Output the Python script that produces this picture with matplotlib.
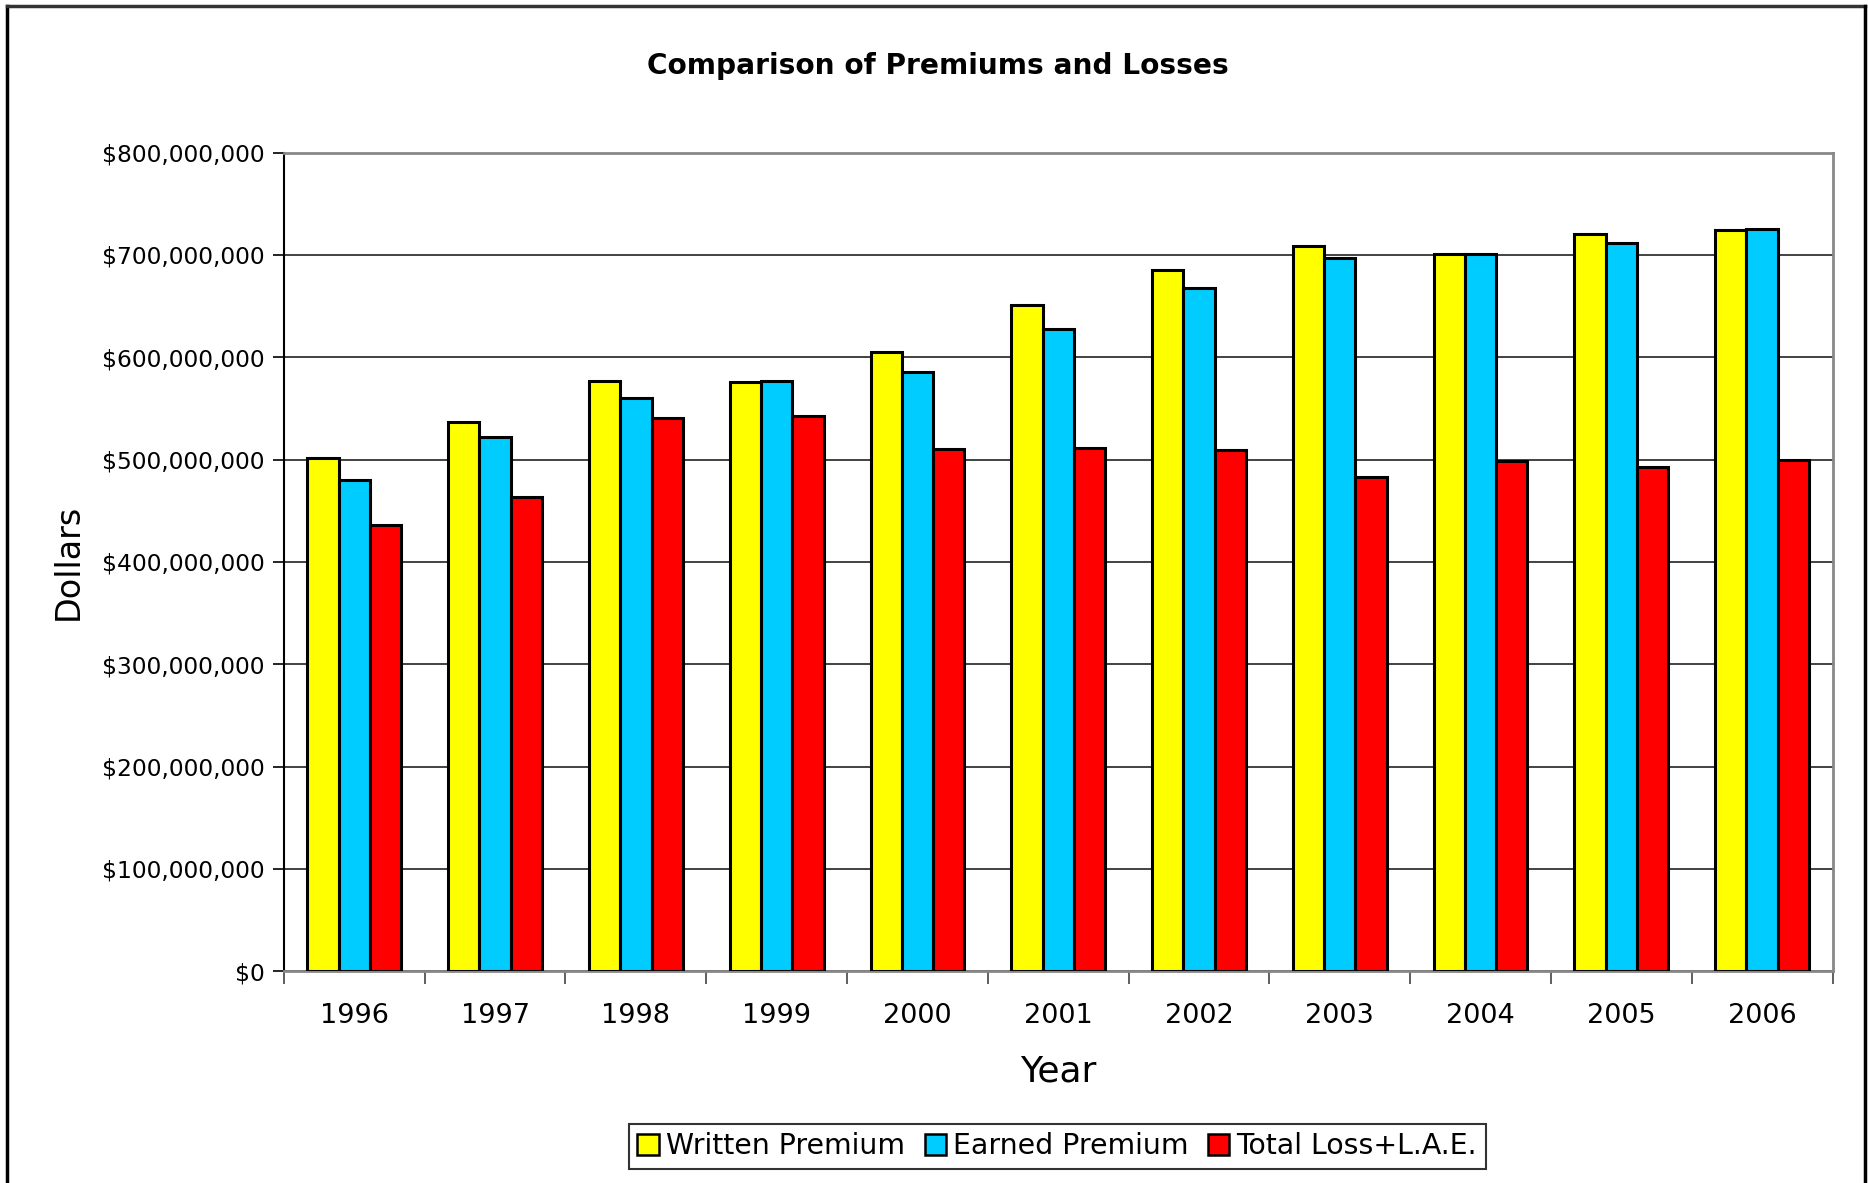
import numpy as np
import matplotlib.pyplot as plt
from matplotlib.lines import Line2D
from matplotlib.ticker import FuncFormatter, MultipleLocator

# data (millions of dollars)
years = ['1996', '1997', '1998', '1999', '2000', '2001', '2002', '2003', '2004', '2005', '2006']
written = [502, 537, 577, 576, 605, 651, 685, 709, 701, 720, 724]
earned = [480, 522, 560, 577, 586, 628, 668, 697, 701, 712, 725]
losses = [436, 463, 541, 543, 510, 511, 509, 483, 499, 493, 500]
series_names = ['Written Premium', 'Earned Premium', 'Total Loss+L.A.E.']
colors = ['#FFFF00', '#00CCFF', '#FF0000']

plt.rcParams['font.family'] = ['DejaVu Sans']

fig = plt.figure(figsize=(18.68, 11.83), dpi=100)
ax = fig.add_axes([0.152, 0.179, 0.829, 0.692])

x = np.arange(len(years))
w = 1 / 4.5
for i, (vals, name, c) in enumerate(zip([written, earned, losses], series_names, colors)):
    ax.bar(x + (i - 1) * w, np.array(vals) * 1e6, width=w, color=c,
           edgecolor='black', linewidth=2.2, label=name, zorder=3)

ax.set_xlim(-0.5, len(years) - 0.5)
ax.set_ylim(0, 800e6)
ax.yaxis.set_major_locator(MultipleLocator(100e6))
ax.yaxis.set_major_formatter(FuncFormatter(lambda v, p: '${:,.0f}'.format(v)))
ax.grid(axis='y', color='#222222', linewidth=1.2, zorder=0)

ax.set_xticks(x)
ax.set_xticklabels(years, fontsize=19.5)
ax.set_xticks(np.arange(-0.5, len(years)), minor=True)
ax.tick_params(axis='x', which='major', length=0, pad=23)
ax.tick_params(axis='x', which='minor', length=9, width=1.2, direction='out', color='#444444')
ax.tick_params(axis='y', labelsize=16.8, length=8, width=1.2, direction='out', pad=6)

for s in ['top', 'right', 'bottom']:
    ax.spines[s].set_color('#888888')
    ax.spines[s].set_linewidth(2)
ax.spines['left'].set_color('black')
ax.spines['left'].set_linewidth(1.5)

ax.set_xlabel('Year', fontsize=26, labelpad=18)
ax.set_ylabel('Dollars', fontsize=24, labelpad=12)
fig.text(0.502, 0.944, 'Comparison of Premiums and Losses', fontsize=20.2,
         fontweight='bold', ha='center', va='center')

leg = ax.legend(loc='center', bbox_to_anchor=(0.566, 0.031), bbox_transform=fig.transFigure,
                ncol=3, fontsize=20.4, frameon=True, fancybox=False, edgecolor='black',
                handlelength=0.75, handleheight=0.75, handletextpad=0.25, columnspacing=0.7,
                borderpad=0.3, borderaxespad=0)
leg.get_frame().set_linewidth(1.5)
for h in leg.legend_handles:
    h.set_linewidth(1.8)

# outer chart border
fig.add_artist(Line2D([7 / 1868, 7 / 1868], [0, 1 - 6 / 1183], color='black', lw=2.5))
fig.add_artist(Line2D([7 / 1868, 1865 / 1868], [1 - 6 / 1183, 1 - 6 / 1183], color='#333333', lw=2.5))
fig.add_artist(Line2D([1865 / 1868, 1865 / 1868], [0, 1 - 6 / 1183], color='black', lw=2.5))

fig.savefig('out.png', dpi=100)
